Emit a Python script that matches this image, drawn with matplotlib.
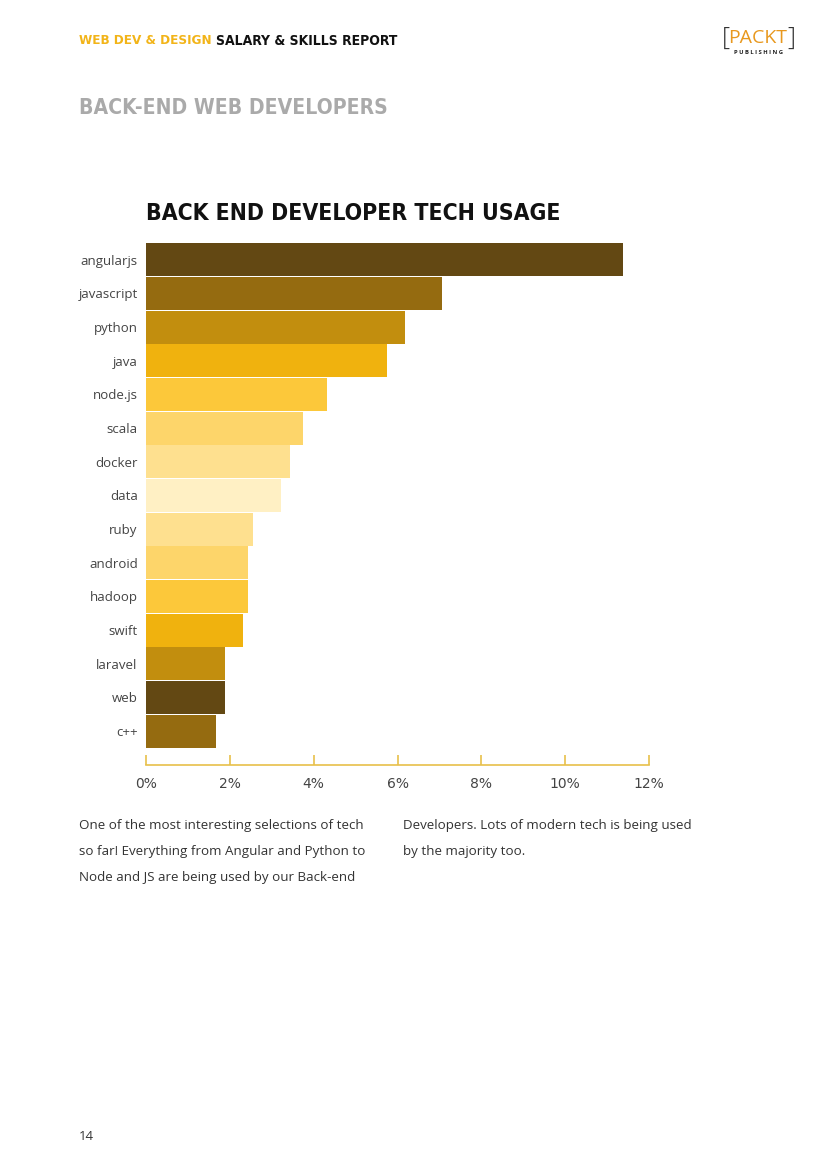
import matplotlib
matplotlib.use("Agg")
import matplotlib.pyplot as plt

# tech usage among back-end developers (percent)
techs = ["angularjs", "javascript", "python", "java", "node.js", "scala", "docker",
         "data", "ruby", "android", "hadoop", "swift", "laravel", "web", "c++"]
usage = [11.38, 7.06, 6.18, 5.75, 4.32, 3.75, 3.44, 3.22, 2.55, 2.43, 2.43, 2.31, 1.89, 1.89, 1.67]
bar_colors = ["#634813", "#956b10", "#c28e0e", "#f0b20e", "#fcc83a", "#fdd56a", "#fee08f",
              "#fff0c4", "#fee08f", "#fdd56a", "#fcc83a", "#f0b20e", "#c28e0e", "#634813", "#956b10"]
xticks = [0, 2, 4, 6, 8, 10, 12]

HEAD = ["DejaVu Sans"]
BODY = ["Open Sans", "DejaVu Sans"]
GOLD = "#f2b418"

fig = plt.figure(figsize=(8.26, 11.69), dpi=100)
W, H = 826, 1169
renderer = fig.canvas.get_renderer()

def put(x, y, s, **kw):
    return fig.text(x / W, 1 - y / H, s, **kw)

def fit(t, width):
    # size a heading so it spans roughly the reference width (a bit wider,
    # since the original display font is much narrower)
    w = t.get_window_extent(renderer).width
    t.set_fontsize(t.get_fontsize() * width * 1.45 / w)
    return t

head_kw = dict(family=HEAD, weight="bold", fontstretch="condensed", va="center")

# page header
t1 = fit(put(79, 41, "WEB DEV & DESIGN", color=GOLD, fontsize=11, **head_kw), 91)
x2 = 79 + t1.get_window_extent(renderer).width + 4
fit(put(x2, 41, "SALARY & SKILLS REPORT", color="#111111", fontsize=11, **head_kw), 125)
put(722, 38, "[", family=BODY, fontsize=18, color="#333333", va="center", weight="light")
put(758, 38, "PACKT", family=BODY, fontsize=14, color="#e8981e", va="center", ha="center")
put(795, 38, "]", family=BODY, fontsize=18, color="#333333", va="center", ha="right", weight="light")
put(758, 53, "P U B L I S H I N G", family=BODY, fontsize=4.2, color="#222222", va="center",
    ha="center", weight="bold")

fit(put(79, 108, "BACK-END WEB DEVELOPERS", color="#aaaaaa", fontsize=15, **head_kw), 213)
fit(put(146, 213, "BACK END DEVELOPER TECH USAGE", color="#111111", fontsize=17, **head_kw), 286)

# chart
ax = fig.add_axes([146 / W, 1 - 748 / H, 503 / W, 505 / H])
ypos = list(range(len(techs)))
ax.barh(ypos, usage, height=0.98, color=bar_colors)
ax.set_ylim(len(techs) - 0.5, -0.5)
ax.set_xlim(0, 12)
ax.set_yticks(ypos)
ax.set_yticklabels(techs, family=BODY, fontsize=9.5)
ax.tick_params(axis="y", length=0, pad=6, labelcolor="#444444")
ax.set_xticks(xticks)
ax.set_xticklabels([f"{t}%" for t in xticks], family=BODY, fontsize=9.5)
ax.tick_params(axis="x", direction="in", length=7, width=1.2, color="#e8c04a", pad=9,
               labelcolor="#444444")
for side in ["top", "right", "left"]:
    ax.spines[side].set_visible(False)
ax.spines["bottom"].set_position(("outward", 12))
ax.spines["bottom"].set_color("#e8c04a")
ax.spines["bottom"].set_linewidth(1.2)

# commentary
left_lines = ["One of the most interesting selections of tech",
              "so far! Everything from Angular and Python to",
              "Node and JS are being used by our Back-end"]
right_lines = ["Developers. Lots of modern tech is being used",
               "by the majority too."]
for i, s in enumerate(left_lines):
    put(79, 825 + 26 * i, s, family=BODY, fontsize=9.6, color="#333333", va="center")
for i, s in enumerate(right_lines):
    put(403, 825 + 26 * i, s, family=BODY, fontsize=9.6, color="#333333", va="center")

put(79, 1136, "14", family=BODY, fontsize=9.5, color="#333333", va="center")

fig.savefig("out.png", dpi=100)
